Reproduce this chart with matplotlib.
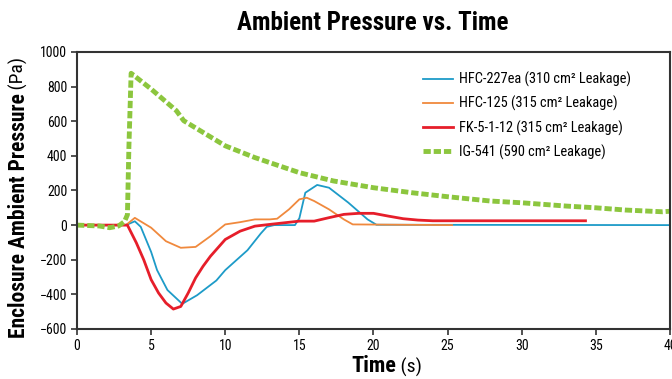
import numpy as np
import matplotlib.pyplot as plt

# values (time in s, pressure in Pa)
t_hfc227 = [0, 3.3, 3.9, 4.3, 5.0, 5.4, 6.1, 7.1, 8.1, 9.4, 10.0, 11.5, 12.4, 12.8, 13.3, 14.7,
            15.0, 15.4, 16.2, 17.0, 18.3, 19.6, 20.2, 40.0]
p_hfc227 = [0, 0, 22, -10, -155, -260, -375, -455, -405, -320, -260, -145, -48, -10, 0, 0,
            40, 187, 232, 216, 130, 33, 2, 0]

t_hfc125 = [0, 3.3, 3.9, 5.0, 6.0, 7.0, 8.0, 9.0, 10.0, 11.0, 12.0, 13.0, 13.5, 14.3, 15.0,
            15.5, 16.0, 17.0, 18.0, 18.6, 25.3]
p_hfc125 = [0, 0, 42, -15, -93, -131, -126, -64, 4, 17, 33, 33, 37, 91, 149,
            158, 139, 91, 33, 4, 0]

t_fk = [0, 3.4, 4.0, 4.5, 5.0, 5.5, 6.0, 6.5, 7.0, 7.5, 8.0, 8.5, 9.0, 10.0, 11.0, 12.0,
        13.0, 15.0, 16.0, 17.0, 18.0, 19.0, 20.0, 21.0, 22.0, 23.0, 24.0, 34.3]
p_fk = [0, 0, -102, -200, -315, -392, -450, -485, -470, -392, -305, -238, -180, -83, -35, -6,
        4, 23, 23, 43, 62, 68, 68, 52, 37, 29, 25, 25]

t_ig = [0, 1.5, 2.2, 2.8, 3.2, 3.4, 3.5, 3.65, 5.0, 6.7, 7.2, 10.0, 12.0, 15.0, 17.3, 20.0,
        22.6, 25.0, 27.9, 30.0, 33.0, 35.0, 37.0, 39.5, 40.0]
p_ig = [0, -5, -15, -5, 20, 60, 450, 877, 786, 661, 603, 458, 390, 303, 255, 216,
        187, 164, 139, 129, 110, 100, 87, 77, 80]

series_labels = ["HFC-227ea (310 cm² Leakage)", "HFC-125 (315 cm² Leakage)",
                 "FK-5-1-12 (315 cm² Leakage)", "IG-541 (590 cm² Leakage)"]
x_ticks = [0, 5, 10, 15, 20, 25, 30, 35, 40]
y_ticks = [-600, -400, -200, 0, 200, 400, 600, 800, 1000]

plt.rcParams['font.family'] = ['Roboto Condensed', 'DejaVu Sans']

fig = plt.figure(figsize=(6.72, 3.79), dpi=100)
ax = fig.add_axes([0.1146, 0.132, 0.8824, 0.7308])

ax.plot(t_hfc227, p_hfc227, color='#1d9bc8', lw=1.3, label=series_labels[0])
ax.plot(t_hfc125, p_hfc125, color='#f0893d', lw=1.3, label=series_labels[1])
ax.plot(t_fk, p_fk, color='#e61e2a', lw=2.0, label=series_labels[2])
ax.plot(t_ig, p_ig, color='#8cc63e', lw=3.5, linestyle=(0, (1.5, 0.6)), label=series_labels[3])

ax.set_xlim(0, 40)
ax.set_ylim(-600, 1000)
ax.set_xticks(x_ticks)
ax.set_yticks(y_ticks)
ax.tick_params(axis='both', labelsize=10, length=4, width=1.2, color='#333333', pad=3)
for s in ax.spines.values():
    s.set_color('#333333')
    s.set_linewidth(1.5)

leg = ax.legend(loc='upper left', bbox_to_anchor=(0.561, 0.976), frameon=False, fontsize=10.4,
                handlelength=2.1, handletextpad=0.4, labelspacing=0.62, borderpad=0.4)

fig.text(0.555, 0.94, "Ambient Pressure vs. Time", ha='center', va='center',
         fontsize=18, fontweight='bold')

# x label: bold "Time" + regular "(s)"
xl = fig.text(0.589, 0.018, "Time", ha='right', va='baseline', fontsize=16, fontweight='bold')
ax.annotate(" (s)", xy=(1, 0), xycoords=xl, ha='left', va='bottom', fontsize=14)

# y label: bold part + regular "(Pa)"
yl = fig.text(0.028, 0.43, "Enclosure Ambient Pressure", rotation=90, ha='center', va='center',
              fontsize=15.5, fontweight='bold')
ax.annotate(" (Pa)", xy=(0.5, 1), xycoords=yl, rotation=90, ha='center', va='bottom', fontsize=14)

plt.savefig('out.png', dpi=100)
